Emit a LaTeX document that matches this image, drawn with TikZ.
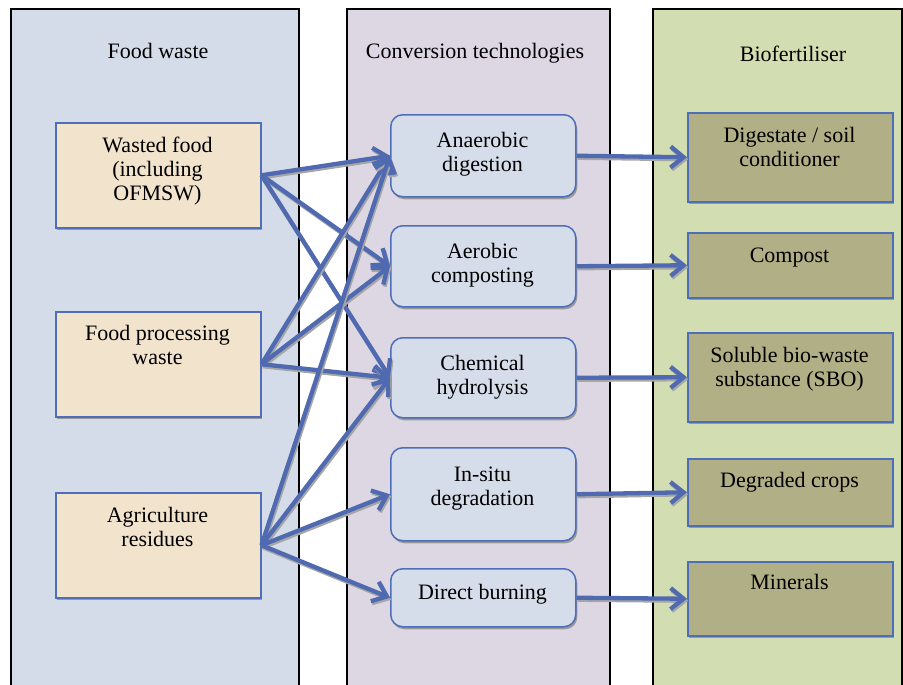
\documentclass[tikz,border=0pt]{standalone}
\usepackage{fontspec}
\setmainfont{Liberation Serif}
\usetikzlibrary{arrows.meta,shadows}
\definecolor{pleft}{RGB}{213,220,233}
\definecolor{pmid}{RGB}{221,215,228}
\definecolor{pright}{RGB}{210,222,177}
\definecolor{boxwheat}{RGB}{242,227,205}
\definecolor{boxblue}{RGB}{214,221,234}
\definecolor{boxolive}{RGB}{177,175,134}
\definecolor{bordblue}{RGB}{79,110,185}
\definecolor{arrowblue}{RGB}{80,106,178}
\begin{document}
\begin{tikzpicture}[x=1pt,y=-1pt,
  panel/.style={draw=black, line width=1.2pt},
  boxbase/.style={draw=bordblue, line width=1.5pt, inner sep=0pt, anchor=north west,
    drop shadow={shadow xshift=1.5pt,shadow yshift=-2.5pt,fill=black!40,opacity=1}},
  srcbox/.style={boxbase, fill=boxwheat, minimum width=205pt},
  techbox/.style={boxbase, fill=boxblue, rounded corners=12pt, minimum width=185pt},
  prodbox/.style={boxbase, fill=boxolive, minimum width=205pt},
  lbl/.style={anchor=north, inner sep=0pt, align=center, font=\fontsize{22}{24}\selectfont},
  flow/.style={line width=4.3pt, draw=arrowblue, -{Straight Barb[length=13pt,width=21pt]},
    preaction={draw=black!35, line width=4.3pt, -{Straight Barb[length=13pt,width=21pt]},
      transform canvas={shift={(1.2pt,-2pt)}}}}
]
\useasboundingbox (0,0) rectangle (903,685);
% panels
\filldraw[panel, fill=pleft]  (11,700) -- (11,9) -- (299,9) -- (299,700);
\filldraw[panel, fill=pmid]   (347,700) -- (347,9) -- (610,9) -- (610,700);
\filldraw[panel, fill=pright] (653,700) -- (653,9) -- (902,9) -- (902,700);
\node[lbl] (t1) at (158,41.2) {\strut Food waste};
\node[lbl] (t2) at (475,41.2) {\strut Conversion technologies};
\node[lbl] (t3) at (793,44.2) {\strut Biofertiliser};
% source boxes
\node[srcbox, minimum height=105pt] (wf) at (55,122) {};
\node[srcbox, minimum height=105pt] (fp) at (55,311) {};
\node[srcbox, minimum height=105pt] (ag) at (55,492) {};
% technology boxes
\node[techbox, minimum height=82pt] (ad) at (390,114) {};
\node[techbox, minimum height=81pt] (ac) at (390,225) {};
\node[techbox, minimum height=80pt] (ch) at (390,337) {};
\node[techbox, minimum height=93pt] (is) at (390,447) {};
\node[techbox, minimum height=58pt] (db) at (390,568) {};
% product boxes
\node[prodbox, minimum height=89pt] (dg) at (687,112) {};
\node[prodbox, minimum height=65pt] (co) at (687,232) {};
\node[prodbox, minimum height=89pt] (sb) at (687,332) {};
\node[prodbox, minimum height=67pt] (dc) at (687,458) {};
\node[prodbox, minimum height=74pt] (mi) at (687,561) {};
% labels
\node[lbl] (wft) at (157.5,135.2) {\strut Wasted food\\(including\\OFMSW)};
\node[lbl] (fpt) at (157.5,323.2) {\strut Food processing\\waste};
\node[lbl] (agt) at (157.5,505.2) {\strut Agriculture\\residues};
\node[lbl] (adt) at (482.5,130.2) {\strut Anaerobic\\digestion};
\node[lbl] (act) at (482.5,241.2) {\strut Aerobic\\composting};
\node[lbl] (cht) at (482.5,353.2) {\strut Chemical\\hydrolysis};
\node[lbl] (ist) at (482.5,464.2) {\strut In-situ\\degradation};
\node[lbl] (dbt) at (482.5,582.2) {\strut Direct burning};
\node[lbl] (dgt) at (789.5,125.2) {\strut Digestate / soil\\conditioner};
\node[lbl] (cot) at (789.5,245.2) {\strut Compost};
\node[lbl] (sbt) at (789.5,345.2) {\strut Soluble bio-waste\\substance (SBO)};
\node[lbl] (dct) at (789.5,470.2) {\strut Degraded crops};
\node[lbl] (mit) at (789.5,572.2) {\strut Minerals};
% flows source -> technology
\draw[flow] (wf.east) -- (ad.west);
\draw[flow] (wf.east) -- (ac.west);
\draw[flow] (wf.east) -- (ch.west);
\draw[flow] (fp.east) -- (ad.west);
\draw[flow] (fp.east) -- (ac.west);
\draw[flow] (fp.east) -- (ch.west);
\draw[flow] (ag.east) -- (ad.west);
\draw[flow] (ag.east) -- (ch.west);
\draw[flow] (ag.east) -- (is.west);
\draw[flow] (ag.east) -- (db.west);
% flows technology -> product
\draw[flow] (ad.east) -- (dg.west);
\draw[flow] (ac.east) -- (co.west);
\draw[flow] (ch.east) -- (sb.west);
\draw[flow] (is.east) -- (dc.west);
\draw[flow] (db.east) -- (mi.west);
\end{tikzpicture}
\end{document}
